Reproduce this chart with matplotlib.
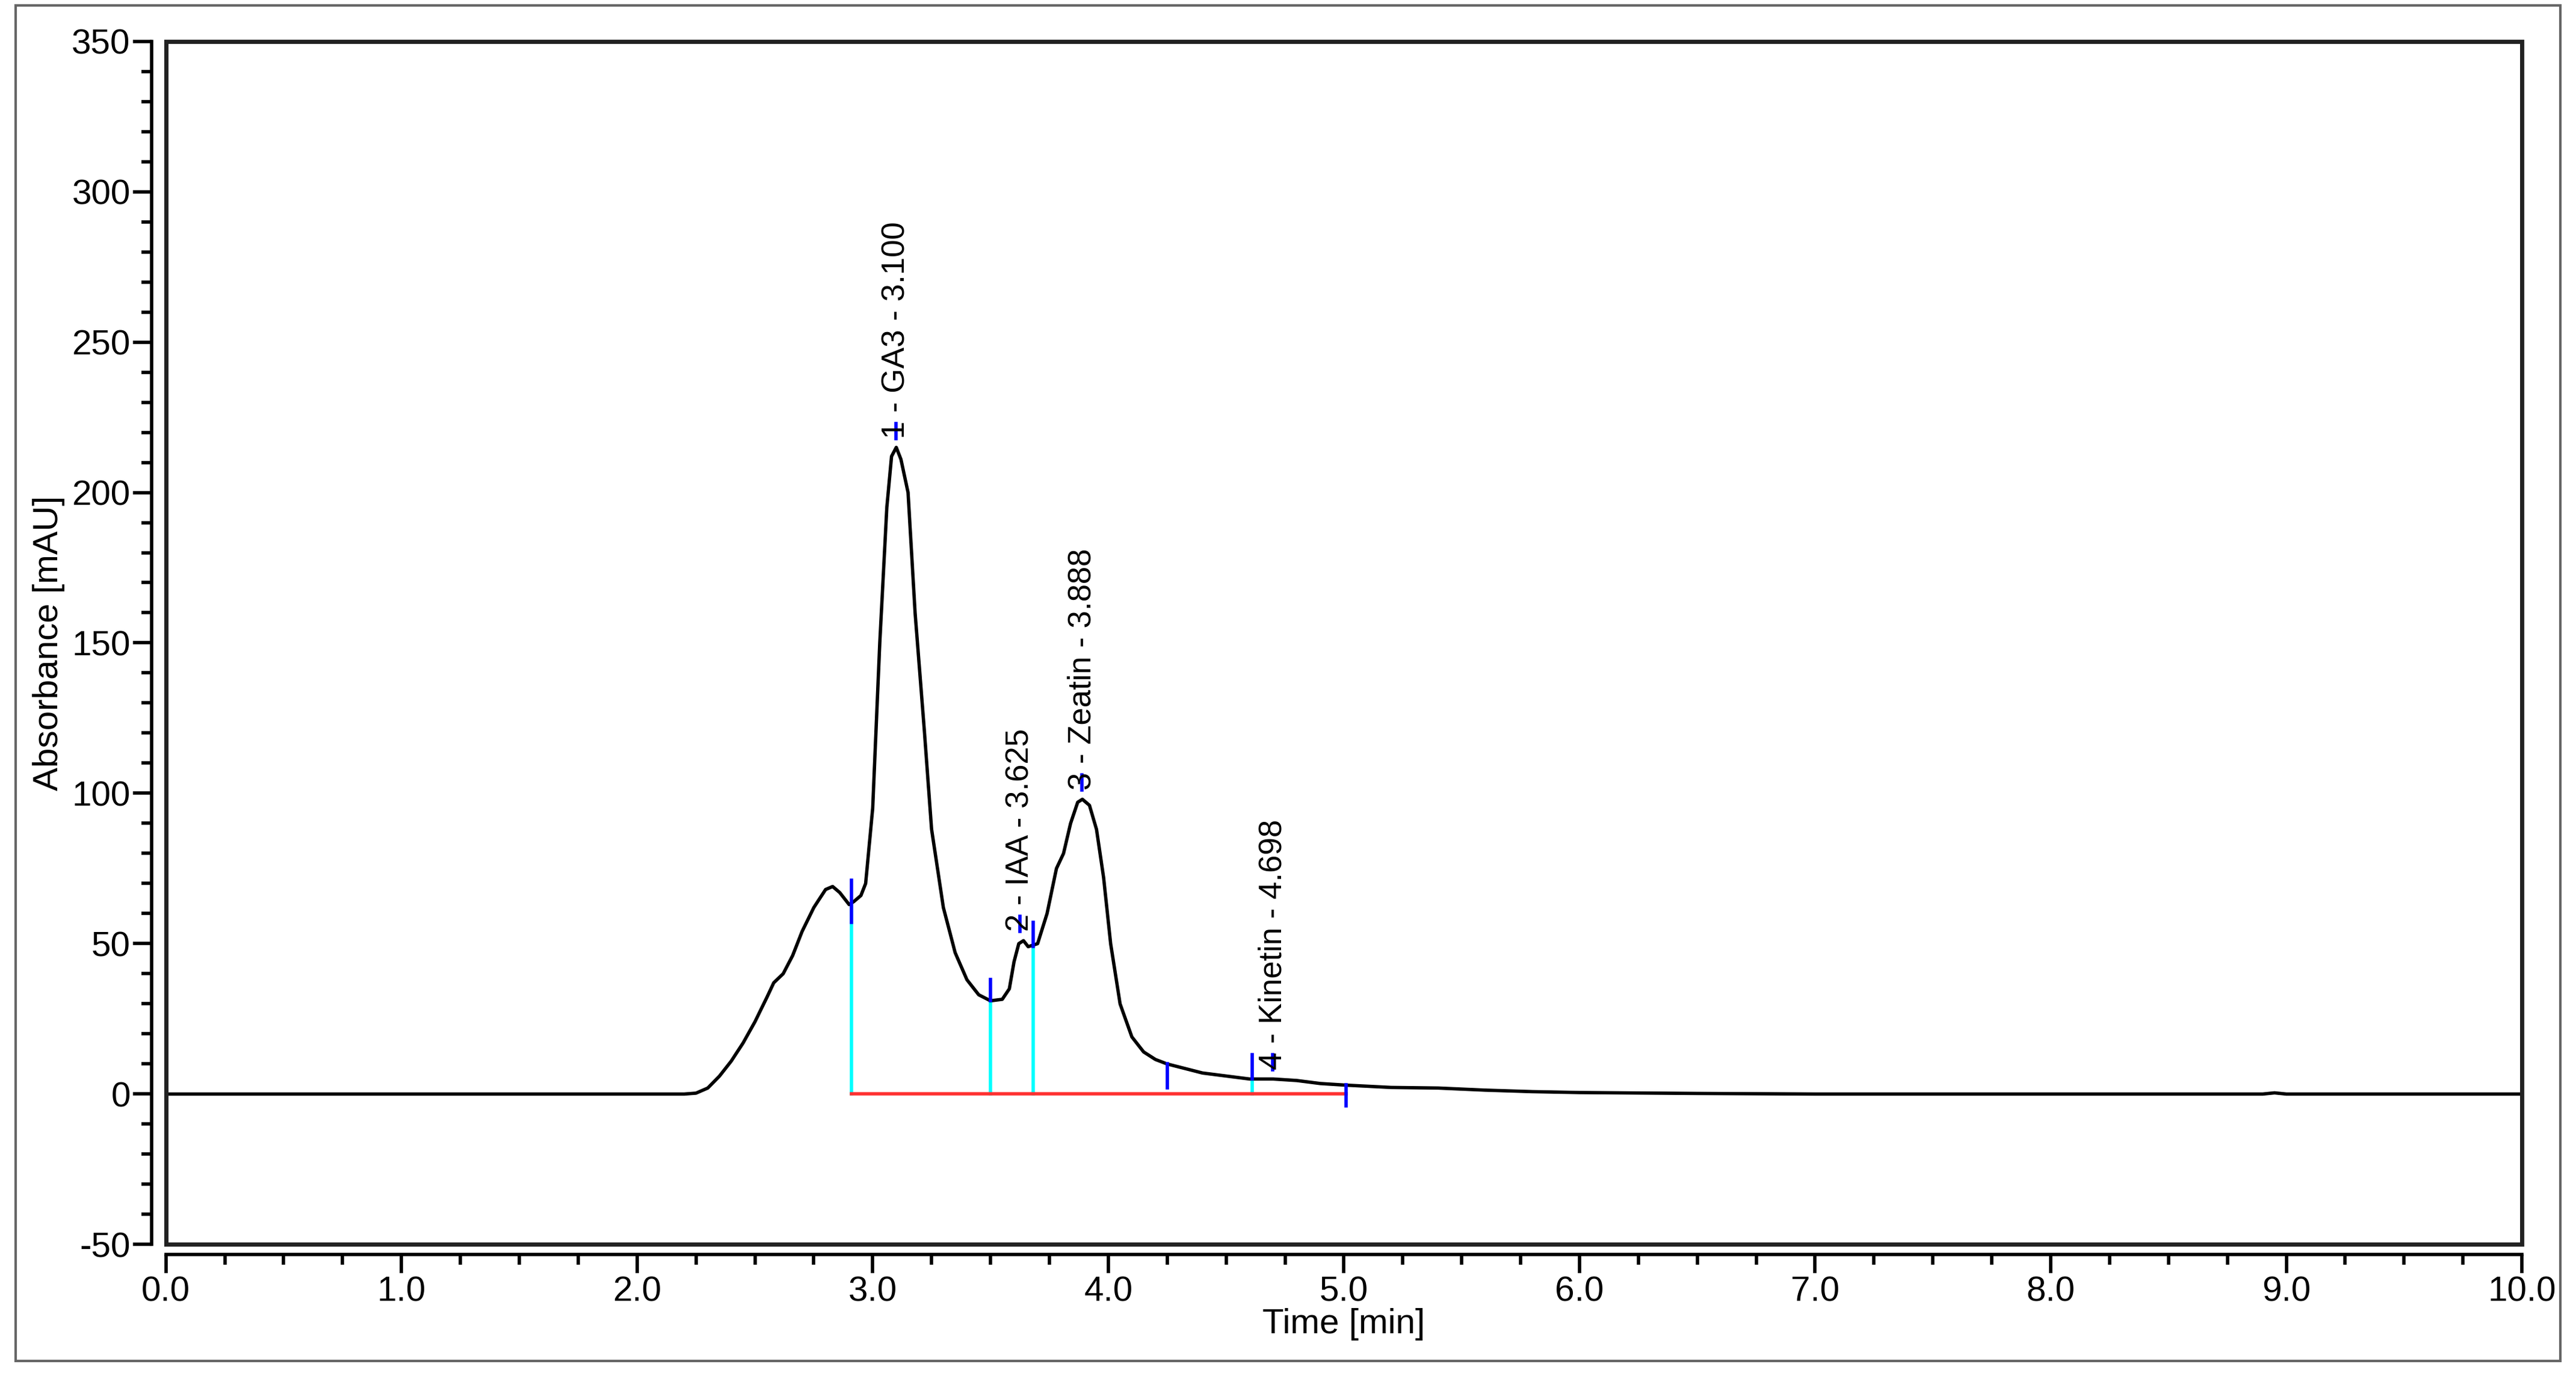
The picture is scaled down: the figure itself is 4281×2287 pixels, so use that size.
import matplotlib
matplotlib.use("Agg")
import matplotlib.pyplot as plt
from matplotlib.patches import Rectangle

plt.rcParams['font.family'] = ['Liberation Sans', 'DejaVu Sans']

time = [0, 2.2, 2.25, 2.3, 2.35, 2.4, 2.45, 2.5, 2.55, 2.58, 2.62, 2.66, 2.7, 2.75, 2.8, 2.83, 2.86, 2.9,
        2.92, 2.95, 2.97, 3.0, 3.03, 3.06, 3.08, 3.1, 3.12, 3.15, 3.18, 3.22, 3.25, 3.3, 3.35, 3.4, 3.45,
        3.5, 3.55, 3.58, 3.6, 3.62, 3.64, 3.66, 3.7, 3.74, 3.78, 3.81, 3.84, 3.87, 3.89, 3.92, 3.95, 3.98,
        4.01, 4.05, 4.1, 4.15, 4.2, 4.25, 4.3, 4.4, 4.5, 4.6, 4.7, 4.8, 4.9, 5.0, 5.2, 5.4, 5.6, 5.8, 6.0,
        6.5, 7.0, 8.9, 8.95, 9.0, 10.0]
absorb = [0, 0, 0.3, 2, 6, 11, 17, 24, 32, 37, 40, 46, 54, 62, 68, 69, 67, 63,
          64, 66, 70, 95, 150, 195, 212, 215, 211, 200, 160, 120, 88, 62, 47, 38, 33,
          31, 31.5, 35, 44, 50, 51, 49, 50, 60, 75, 80, 90, 97, 98, 96, 88, 72,
          50, 30, 19, 14, 11.5, 10, 9, 7, 6, 5, 5, 4.5, 3.5, 3, 2.2, 2, 1.3, 0.8, 0.5,
          0.2, 0, 0, 0.4, 0, 0]

peak_names = ["1 - GA3 - 3.100", "2 - IAA - 3.625", "3 - Zeatin - 3.888", "4 - Kinetin - 4.698"]
peak_t = [3.100, 3.625, 3.888, 4.698]
peak_h = [215, 51, 98, 5]

bound_t = [2.91, 3.50, 3.68, 4.25, 4.61, 5.01]
bound_h = [63, 31, 49, 10, 5, 3]
bound_lo = [57, 31, 49, 2, 5, -4]
bound_hi = [71, 38, 57, 10, 13, 3]
bound_drop = [True, True, True, False, True, False]

fig = plt.figure(figsize=(42.81, 22.87), dpi=100)
ax = fig.add_axes([0.0644, 0.0956, 0.9146, 0.8744])

ax.plot(time, absorb, color='black', lw=4, zorder=3, solid_joinstyle='round')
ax.plot([bound_t[0], bound_t[-1]], [0, 0], color='#ff3030', lw=4, zorder=4)
for t, h, lo, hi, d in zip(bound_t, bound_h, bound_lo, bound_hi, bound_drop):
    if d:
        ax.plot([t, t], [0, h], color='cyan', lw=4, zorder=2)
    ax.plot([t, t], [lo, hi], color='blue', lw=4, zorder=5)
for name, t, h in zip(peak_names, peak_t, peak_h):
    ax.plot([t, t], [h + 3, h + 8], color='blue', lw=4, zorder=5)
    ax.text(t, h + 3, name, rotation=90, ha='center', va='bottom', fontsize=38, zorder=6)

ax.set_xlim(0, 10)
ax.set_ylim(-50, 350)
ax.set_xticks([i for i in range(11)])
ax.set_xticklabels([f"{i:.1f}" for i in range(11)])
ax.set_xticks([i * 0.25 for i in range(41)], minor=True)
ax.set_yticks(list(range(-50, 351, 50)))
ax.set_yticklabels([str(v) for v in range(-50, 351, 50)])
ax.set_yticks(list(range(-50, 351, 10)), minor=True)
ax.tick_params(axis='both', which='major', labelsize=42, width=4, length=22, direction='out')
ax.tick_params(axis='both', which='minor', width=4, length=12, direction='out')
ax.spines['top'].set_visible(False)
ax.spines['right'].set_visible(False)
ax.spines['left'].set_position(('outward', 17))
ax.spines['bottom'].set_position(('outward', 12))
for s in ('left', 'bottom'):
    ax.spines[s].set_linewidth(4)
ax.add_patch(Rectangle((0, 0), 1, 1, transform=ax.transAxes, fill=False, lw=5, ec='#222222', clip_on=False, zorder=10))
ax.set_xlabel("Time [min]", fontsize=42, labelpad=0)
ax.set_ylabel("Absorbance [mAU]", fontsize=42, labelpad=8)

fig.add_artist(Rectangle((0.006, 0.011), 0.988, 0.985, transform=fig.transFigure, fill=False, lw=3, ec='#666666'))
fig.savefig("out.png", dpi=100)
